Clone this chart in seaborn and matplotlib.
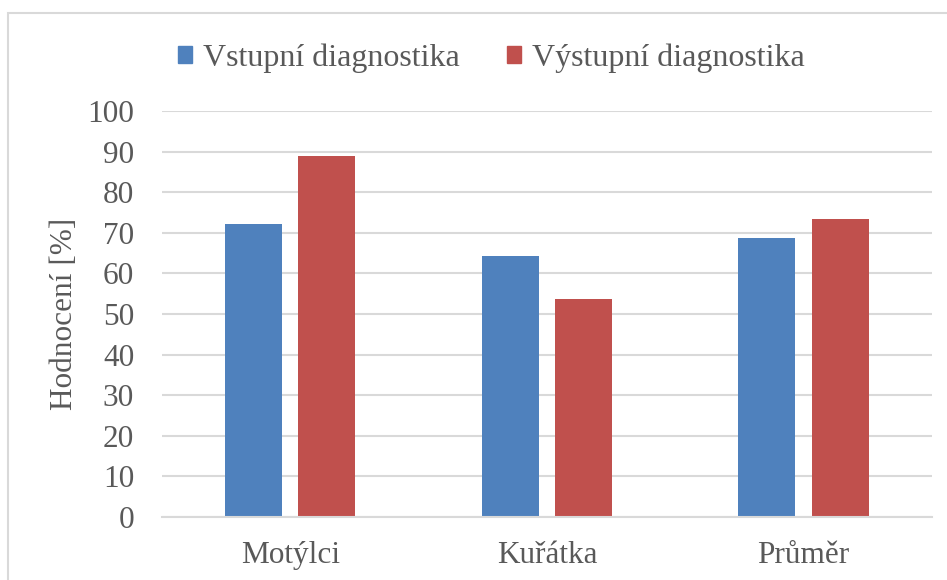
import matplotlib
matplotlib.use("Agg")
import matplotlib.pyplot as plt
from matplotlib.patches import Rectangle
import pandas as pd
import seaborn as sns

# hodnoty
skupiny = ["Motýlci", "Kuřátka", "Průměr"]
vstupni = [72.1, 64.2, 68.6]
vystupni = [88.9, 53.6, 73.3]
serie = ["Vstupní diagnostika", "Výstupní diagnostika"]
barvy = ["#4F81BD", "#C0504D"]
y_ticks = [0, 10, 20, 30, 40, 50, 60, 70, 80, 90, 100]

df = pd.DataFrame({
    "skupina": skupiny * 2,
    "hodnota": vstupni + vystupni,
    "serie": [serie[0]] * len(skupiny) + [serie[1]] * len(skupiny),
})

sns.set_style("white")
plt.rcParams["font.family"] = ["Liberation Serif", "DejaVu Serif"]
text_color = "#595959"

fig = plt.figure(figsize=(9.47, 5.8), dpi=100)
ax = fig.add_axes([0.171, 0.1086, 0.813, 0.70])

sns.barplot(data=df, x="skupina", y="hodnota", hue="serie", order=skupiny,
            hue_order=serie, palette=barvy, saturation=1, width=0.57, gap=0.22,
            edgecolor="none", ax=ax, legend=False)

ax.set_ylim(0, 100)
ax.set_yticks(y_ticks)
ax.set_xlim(-0.5, 2.5)
ax.yaxis.grid(True, color="#D9D9D9", linewidth=1.5)
ax.set_axisbelow(True)
for s in ["top", "right", "left"]:
    ax.spines[s].set_visible(False)
ax.spines["bottom"].set_color("#D9D9D9")
ax.spines["bottom"].set_linewidth(1.5)
ax.tick_params(axis="both", length=0, labelsize=22.5, colors=text_color)
ax.tick_params(axis="y", pad=20)
ax.tick_params(axis="x", pad=17)
ax.set_xlabel("")
ax.set_ylabel("Hodnocení [%]", fontsize=22.5, color=text_color)
ax.yaxis.set_label_coords(-0.108, 0.5)

handles = [Rectangle((0, 0), 1, 1, color=c) for c in barvy]
fig.legend(handles, serie, loc="center", bbox_to_anchor=(0.519, 1 - 58 / 580),
           ncol=2, frameon=False, fontsize=23, labelcolor=text_color,
           handlelength=0.42, handleheight=0.42, handletextpad=0.35,
           columnspacing=1.5)

# ramecek kolem grafu
fig.patches.append(Rectangle((8 / 947, -0.1), 1.2, (580 - 13) / 580 + 0.1,
                             transform=fig.transFigure, fill=False,
                             edgecolor="#D9D9D9", linewidth=1.5))

fig.savefig("out.png", dpi=100)
